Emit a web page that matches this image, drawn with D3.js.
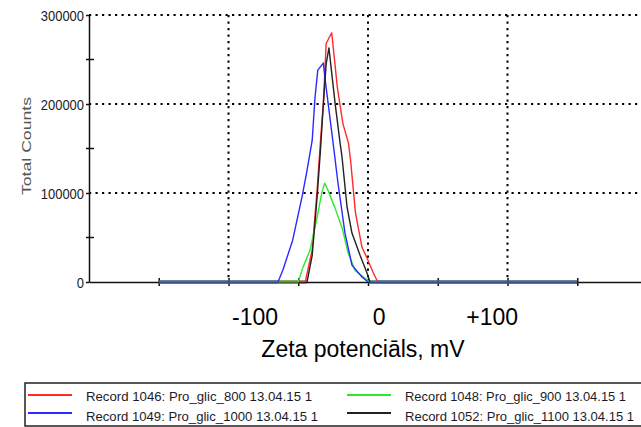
<!DOCTYPE html>
<html>
<head>
<meta charset="utf-8">
<script src="https://cdn.jsdelivr.net/npm/d3@7"></script>
<style>
  body { margin: 0; background: #fff; }
  svg { display: block; font-family: Arial, "Liberation Sans", sans-serif; }
</style>
</head>
<body>
<script>
// zeta potential distributions, [mV, total counts]
const rec1046 = [[-150,0],[-45,0],[-40,36000],[-36.5,103000],[-34,160000],[-32,201000],[-30,268000],[-26,280000],[-22,219000],[-18,178000],[-14,156000],[-12.5,137000],[-9,78000],[-4.3,39000],[-0.7,27000],[3.6,11000],[7,0],[150,0]]
const rec1048 = [[-150,0],[-50,0],[-46.5,17000],[-41.5,36000],[-36.5,73000],[-33,101000],[-31,111000],[-28.7,103000],[-23.6,83000],[-18.6,61000],[-14.3,33000],[-9.3,13000],[-3.6,6000],[1.4,0],[150,0]]
const rec1049 = [[-150,0],[-64.5,0],[-61,13500],[-54,47000],[-47,98000],[-44,123000],[-40,159000],[-38,207000],[-36,238000],[-32,246000],[-31,231000],[-25,156000],[-21.5,111000],[-16.5,55000],[-11.5,19000],[-4.3,5600],[0,0],[150,0]]
const rec1052 = [[-150,0],[-43.7,0],[-40,30000],[-36.5,95000],[-34,150000],[-32,200000],[-30,245000],[-28,263000],[-23.6,201000],[-20,156000],[-18.6,140000],[-15,84000],[-11.5,55000],[-5.7,30000],[-0.7,10000],[1.4,0],[150,0]]

const seriesNames = ['Record 1046: Pro_glic_800 13.04.15 1','Record 1048: Pro_glic_900 13.04.15 1','Record 1049: Pro_glic_1000 13.04.15 1','Record 1052: Pro_glic_1100 13.04.15 1']
const seriesData = [rec1046, rec1048, rec1049, rec1052]
const seriesColors = ['#ff2a2a','#2ee82e','#2a2aff','#222222']

const yTicks = [0,100000,200000,300000]
const yMinor = [50000,150000,250000]
const xTicks = [-150,-100,-50,0,50,100,150]
const xGrid = [-100,0,100]
const xLabels = ['-100','0','+100']
const xLabelAt = [-81,8,89]

const W = 641, H = 427
const svg = d3.select('body').append('svg').attr('width',W).attr('height',H)

const x = d3.scaleLinear().domain([-200,200]).range([89,647])
const y = d3.scaleLinear().domain([0,300000]).range([282,15])

// grid
const grid = svg.append('g').attr('stroke','#000').attr('stroke-width',2).attr('stroke-dasharray','2.2,4.3')
grid.selectAll('line.h').data(yTicks.slice(1)).enter().append('line').classed('h',true)
  .attr('x1',x(-200)).attr('x2',W).attr('y1',d => y(d)).attr('y2',d => y(d))
grid.selectAll('line.v').data(xGrid).enter().append('line').classed('v',true)
  .attr('x1',d => x(d)).attr('x2',d => x(d)).attr('y1',y(300000)).attr('y2',y(0))

// x axis
const xAxis = svg.append('g').attr('transform',`translate(0,${y(0)})`)
  .call(d3.axisBottom(x).tickValues(xTicks).tickSize(4).tickSizeOuter(0).tickFormat(''))
xAxis.select('.domain').attr('stroke','#111').attr('stroke-width',1.5)
xAxis.selectAll('.tick line').attr('y1',-4).attr('y2',4).attr('stroke','#111').attr('stroke-width',1.5)

// y axis
const yAxis = svg.append('g').attr('transform',`translate(${x(-200)},0)`)
  .call(d3.axisLeft(y).tickValues(yTicks).tickSize(3).tickSizeOuter(0).tickFormat(d3.format('d')).tickPadding(2))
yAxis.select('.domain').attr('stroke','#111').attr('stroke-width',1.5)
yAxis.selectAll('.tick line').attr('stroke','#111').attr('stroke-width',1.5)
yAxis.selectAll('.tick text')
  .attr('font-size',14).attr('fill','#1c1c28').attr('dy','0.36em')
  .attr('lengthAdjust','spacingAndGlyphs')
  .attr('textLength',d => String(d).length * 7.2)
yAxis.selectAll('line.minor').data(yMinor).enter().append('line').classed('minor',true)
  .attr('x1',-3).attr('x2',5).attr('y1',d => y(d)).attr('y2',d => y(d))
  .attr('stroke','#111').attr('stroke-width',1.5)

svg.append('text')
  .attr('transform',`translate(31,146) rotate(-90)`)
  .attr('text-anchor','middle').attr('font-size',13).attr('fill','#555')
  .attr('textLength',98).attr('lengthAdjust','spacingAndGlyphs')
  .text('Total Counts')

// zero-count stretches (overlapping baseline of all records)
const zeroLine = d3.line().defined(d => d[1] === 0).x(d => x(d[0])).y(d => y(d[1]))
const baseOrder = [0,3,1,2]
svg.append('g').selectAll('path').data(baseOrder).enter().append('path')
  .attr('d',i => zeroLine(seriesData[i]))
  .attr('fill','none').attr('stroke',i => seriesColors[i]).attr('stroke-opacity',0.42).attr('stroke-width',3.5)

// peaks
function peak(arr){
  const first = arr.findIndex(d => d[1] > 0)
  let last = arr.length - 1
  while(arr[last][1] === 0) last--
  return arr.slice(first - 1, last + 2)
}
const line = d3.line().x(d => x(d[0])).y(d => y(d[1]))
svg.append('g').selectAll('path').data(seriesData).enter().append('path')
  .attr('d',d => line(peak(d)))
  .attr('fill','none').attr('stroke',(d,i) => seriesColors[i]).attr('stroke-width',1.4).attr('stroke-linejoin','round')

// x labels
svg.append('g').selectAll('text').data(xLabels).enter().append('text')
  .attr('x',(d,i) => x(xLabelAt[i])).attr('y',325)
  .attr('text-anchor','middle').attr('font-size',23).attr('fill','#000')
  .text(d => d)
svg.append('text').attr('x',363).attr('y',357)
  .attr('text-anchor','middle').attr('font-size',23).attr('fill','#000')
  .text('Zeta potenciāls, mV')

// legend
const legend = svg.append('g')
legend.append('rect').attr('x',25).attr('y',383).attr('width',625).attr('height',43)
  .attr('fill','none').attr('stroke','#222').attr('stroke-width',1.5)
const legPos = [[28,395,401,226],[347,395,401,221],[28,413,421,232],[347,413,421,229]]
const items = legend.selectAll('g.item').data(seriesNames).enter().append('g').classed('item',true)
items.append('line')
  .attr('x1',(d,i) => legPos[i][0]).attr('x2',(d,i) => legPos[i][0]+44)
  .attr('y1',(d,i) => legPos[i][1]).attr('y2',(d,i) => legPos[i][1])
  .attr('stroke',(d,i) => seriesColors[i]).attr('stroke-width',2)
items.append('text')
  .attr('x',(d,i) => legPos[i][0]+58).attr('y',(d,i) => legPos[i][2])
  .attr('font-size',13).attr('fill','#1c1c28')
  .attr('textLength',(d,i) => legPos[i][3]).attr('lengthAdjust','spacingAndGlyphs')
  .text(d => d)
</script>
</body>
</html>
